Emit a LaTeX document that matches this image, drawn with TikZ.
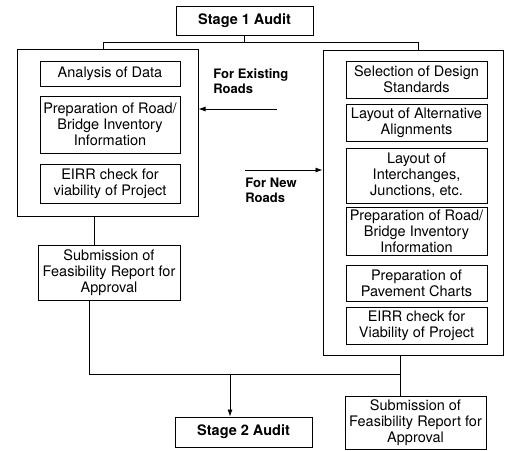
\documentclass[tikz,border=0pt]{standalone}
\usepackage{fontspec}
\setmainfont{TeX Gyre Heros}
\usetikzlibrary{positioning}
\usetikzlibrary{arrows.meta}

\begin{document}
\begin{tikzpicture}[x=1pt, y=-1pt, line width=0.8pt,
    box/.style={draw, line width=1pt, align=center, inner sep=1pt, font=\fontsize{14.5}{16}\selectfont},
    outer/.style={draw, line width=1pt, inner sep=0pt},
    lbl/.style={align=left, inner sep=0pt, anchor=west, font=\fontsize{13}{15}\selectfont\bfseries}]
  \useasboundingbox (0,0) rectangle (505,450);

  % stages
  \node[box, font=\fontsize{14.5}{16}\selectfont\bfseries, minimum width=137pt, minimum height=29pt] (s1) at (244.5,20.5) {Stage 1 Audit};
  \node[box, font=\fontsize{14.5}{16}\selectfont\bfseries, minimum width=137pt, minimum height=30pt] (s2) at (243.5,432) {Stage 2 Audit};

  % existing roads
  \node[outer, minimum width=181pt, minimum height=167pt] (lb) at (107.5,132.5) {};
  \node[box, minimum width=140pt, minimum height=25pt] (l1) at (110,73.5) {Analysis of Data};
  \node[box, minimum width=140pt, minimum height=57pt, below of=l1, node distance=51pt] (l2) {Preparation of Road/\\Bridge Inventory\\Information};
  \node[box, minimum width=140pt, minimum height=39pt, below of=l2, node distance=59pt] (l3) {EIRR check for\\viability of Project};
  \node[box, minimum width=142pt, minimum height=55pt] (sub1) at (109,272.5) {Submission of\\Feasibility Report for\\Approval};

  % new roads
  \node[outer, minimum width=180pt, minimum height=305pt] (rb) at (413,202.5) {};
  \node[box, minimum width=141pt, minimum height=37pt] (r1) at (416.5,79.5) {Selection of Design\\Standards};
  \node[box, minimum width=141pt, minimum height=37pt, below of=r1, node distance=43pt] (r2) {Layout of Alternative\\Alignments};
  \node[box, minimum width=141pt, minimum height=55pt, below of=r2, node distance=53pt] (r3) {Layout of\\Interchanges,\\Junctions, etc.};
  \node[box, minimum width=141pt, minimum height=48pt, below of=r3, node distance=55.5pt] (r4) {Preparation of Road/\\Bridge Inventory\\Information};
  \node[box, minimum width=141pt, minimum height=36pt, below of=r4, node distance=52pt] (r5) {Preparation of\\Pavement Charts};
  \node[box, minimum width=141pt, minimum height=37pt, below of=r5, node distance=42.5pt] (r6) {EIRR check for\\Viability of Project};
  \node[box, minimum width=141pt, minimum height=53pt] (sub2) at (415.5,422.5) {Submission of\\Feasibility Report for\\Approval};

  \node[lbl] (ex) at (213,81) {For Existing\\Roads};
  \node[lbl] (nw) at (245,190) {For New\\Roads};

  \coordinate (tl) at (103,42);
  \coordinate (tr) at (418,42);
  \coordinate (ea) at (277,109);
  \coordinate (na) at (245,170);
  \coordinate (c1) at (94,0);
  \coordinate (bl) at (89,374);
  \coordinate (br) at (400,374);
  \coordinate (ad) at (230,374);

  \draw (s1) -- (s1 |- tl);
  \draw (lb.north -| tl) -- (tl) -- (tr) -- (rb.north -| tr);
  \draw[-{Latex[length=7pt,width=5pt]}] (ea) -- (lb.east |- ea);
  \draw[-{Latex[length=7pt,width=5pt]}] (na) -- (rb.west |- na);
  \draw (lb.south -| c1) -- (sub1.north -| c1);
  \draw (sub1.south -| bl) -- (bl) -- (br);
  \draw (rb.south -| br) -- (sub2.north -| br);
  \draw[-{Latex[length=7pt,width=5pt]}] (ad) -- (ad |- s2.north);
\end{tikzpicture}
\end{document}
